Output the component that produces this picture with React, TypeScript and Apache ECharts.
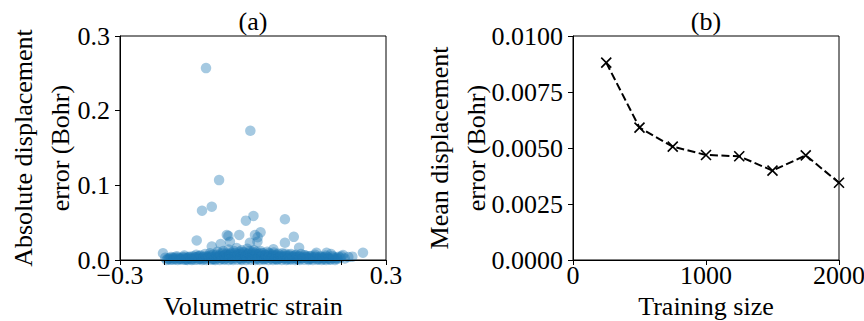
import React, { useEffect, useRef } from "react";
import * as echarts from "echarts";

// ---- Panel (a): scatter of absolute displacement error vs volumetric strain
const outlierPoints: [number, number][] = [
  [-0.106, 0.257], [-0.006, 0.173], [-0.0765, 0.107], [-0.093, 0.0714], [-0.115, 0.066],
  [-0.016, 0.0527], [0.001, 0.059], [0.072, 0.0545], [-0.127, 0.0262], [-0.0555, 0.032],
  [-0.031, 0.0335], [0.0045, 0.0335], [0.017, 0.037], [0.0105, 0.0304], [0.092, 0.031],
  [0.072, 0.023], [0.104, 0.0165], [-0.007, 0.023], [-0.052, 0.0245], [-0.073, 0.0214],
  [-0.093, 0.018], [0.01, 0.0245], [0.046, 0.0143], [-0.059, 0.0335],
];

const bandUpper: [number, number][] = [
  [-0.203, 0.009], [-0.198, 0.003], [-0.19, 0.001], [-0.185, 0.004], [-0.178, 0.002],
  [-0.172, 0.005], [-0.165, 0.001], [-0.16, 0.003], [-0.155, 0.006], [-0.15, 0.002],
  [-0.145, 0.004], [-0.14, 0.001], [-0.135, 0.005], [-0.13, 0.003], [-0.128, 0.007],
  [-0.122, 0.002], [-0.118, 0.006], [-0.112, 0.004], [-0.108, 0.008], [-0.104, 0.002],
  [-0.1, 0.005], [-0.097, 0.009], [-0.093, 0.003], [-0.09, 0.007], [-0.086, 0.001],
  [-0.083, 0.006], [-0.08, 0.011], [-0.077, 0.004], [-0.074, 0.008], [-0.07, 0.002],
  [-0.067, 0.012], [-0.064, 0.006], [-0.061, 0.009], [-0.058, 0.003], [-0.055, 0.014],
  [-0.052, 0.007], [-0.049, 0.01], [-0.046, 0.004], [-0.043, 0.012], [-0.04, 0.006],
  [-0.037, 0.016], [-0.034, 0.008], [-0.031, 0.011], [-0.028, 0.003], [-0.025, 0.013],
  [-0.022, 0.007], [-0.019, 0.01], [-0.016, 0.005], [-0.013, 0.015], [-0.01, 0.008],
  [-0.007, 0.012], [-0.004, 0.004], [-0.001, 0.009], [0.002, 0.013], [0.005, 0.006],
  [0.008, 0.011], [0.011, 0.003], [0.014, 0.008], [0.017, 0.012], [0.02, 0.005],
  [0.023, 0.009], [0.026, 0.002], [0.029, 0.007], [0.032, 0.011], [0.035, 0.004],
  [0.038, 0.008], [0.041, 0.002], [0.044, 0.006], [0.047, 0.01], [0.05, 0.003],
  [0.054, 0.007], [0.058, 0.002], [0.062, 0.005], [0.066, 0.009], [0.07, 0.003],
  [0.074, 0.006], [0.078, 0.001], [0.082, 0.005], [0.086, 0.008], [0.09, 0.003],
  [0.094, 0.006], [0.098, 0.002], [0.103, 0.005], [0.108, 0.008], [0.113, 0.003],
  [0.118, 0.006], [0.123, 0.002], [0.128, 0.005], [0.134, 0.003], [0.143, 0.0098],
  [0.14, 0.007], [0.146, 0.002], [0.152, 0.005], [0.158, 0.003], [0.166, 0.0098],
  [0.164, 0.006], [0.17, 0.002], [0.176, 0.008], [0.182, 0.004], [0.19, 0.003],
  [0.2, 0.005], [0.203, 0.0067], [0.207, 0.002], [0.215, 0.004], [0.224, 0.0045],
  [0.248, 0.0098],
];

const bandLower: [number, number][] = [
  [-0.195, 0.0], [-0.18, 0.0005], [-0.17, 0.0], [-0.158, 0.0005], [-0.148, 0.0],
  [-0.138, 0.0], [-0.125, 0.0005], [-0.115, 0.0], [-0.105, 0.0], [-0.095, 0.0005],
  [-0.085, 0.0], [-0.075, 0.0], [-0.065, 0.0005], [-0.055, 0.0], [-0.045, 0.0],
  [-0.035, 0.0005], [-0.025, 0.0], [-0.015, 0.0], [-0.005, 0.0005], [0.005, 0.0],
  [0.015, 0.0], [0.025, 0.0005], [0.035, 0.0], [0.045, 0.0], [0.055, 0.0005],
  [0.065, 0.0], [0.075, 0.0], [0.085, 0.0005], [0.095, 0.0], [0.105, 0.0],
  [0.115, 0.0005], [0.125, 0.0], [0.135, 0.0], [0.145, 0.0005], [0.155, 0.0],
  [0.165, 0.0], [0.175, 0.0005], [0.185, 0.0],
  [-0.09, 0.0015], [-0.07, 0.002], [-0.05, 0.0015], [-0.03, 0.002], [-0.01, 0.0025],
  [0.01, 0.0015], [0.03, 0.002], [0.05, 0.0015], [0.07, 0.002], [-0.06, 0.004],
  [-0.02, 0.0035], [0.0, 0.004], [0.02, 0.0035], [0.04, 0.004], [0.06, 0.0035],
  [-0.12, 0.0015], [0.1, 0.0015], [0.13, 0.0015], [-0.15, 0.001], [0.16, 0.001],
];

const bandMiddleA: [number, number][] = [
  [-0.192, 0.002], [-0.186, 0.0005], [-0.181, 0.003], [-0.175, 0.001], [-0.169, 0.0035],
  [-0.163, 0.0015], [-0.157, 0.004], [-0.152, 0.0005], [-0.147, 0.003], [-0.142, 0.0045],
  [-0.137, 0.002], [-0.132, 0.0005], [-0.127, 0.004], [-0.121, 0.0055], [-0.116, 0.0025],
  [-0.111, 0.001], [-0.106, 0.005], [-0.101, 0.0035], [-0.096, 0.006], [-0.091, 0.001],
  [-0.087, 0.0045], [-0.082, 0.0075], [-0.078, 0.0025], [-0.073, 0.0055], [-0.068, 0.009],
  [-0.063, 0.0015], [-0.059, 0.007], [-0.054, 0.0045], [-0.05, 0.0085], [-0.045, 0.002],
  [-0.041, 0.0095], [-0.036, 0.005], [-0.032, 0.0075], [-0.027, 0.001], [-0.023, 0.0105],
  [-0.018, 0.006], [-0.014, 0.0025], [-0.009, 0.0095], [-0.005, 0.0065], [0.0, 0.0105],
  [0.004, 0.002], [0.009, 0.0075], [0.013, 0.005], [0.018, 0.0095], [0.022, 0.0015],
  [0.027, 0.0065], [0.031, 0.0045], [0.036, 0.0095], [0.04, 0.0025], [0.045, 0.0075],
  [0.049, 0.0055], [0.053, 0.001], [0.057, 0.0085], [0.061, 0.0025], [0.065, 0.006],
  [0.069, 0.0045], [0.073, 0.0085], [0.077, 0.0025], [0.081, 0.007], [0.085, 0.0015],
  [0.089, 0.0055], [0.093, 0.0035], [0.097, 0.007], [0.101, 0.001], [0.106, 0.0045],
  [0.111, 0.0025], [0.116, 0.0065], [0.121, 0.0045], [0.126, 0.0015], [0.131, 0.0055],
  [0.137, 0.0025], [0.142, 0.0045], [0.148, 0.001], [0.154, 0.004], [0.16, 0.0025],
  [0.167, 0.0045], [0.173, 0.001], [0.179, 0.0055], [0.186, 0.002], [0.193, 0.0045],
];

const bandMiddleB: [number, number][] = [
  [-0.188, 0.0025], [-0.176, 0.0035], [-0.166, 0.0025], [-0.154, 0.003], [-0.143, 0.0025],
  [-0.133, 0.0035], [-0.124, 0.0045], [-0.114, 0.0035], [-0.103, 0.004], [-0.094, 0.0045],
  [-0.084, 0.0035], [-0.076, 0.006], [-0.069, 0.0045], [-0.062, 0.0075], [-0.056, 0.006],
  [-0.048, 0.007], [-0.042, 0.0035], [-0.035, 0.006], [-0.029, 0.0085], [-0.021, 0.0045],
  [-0.015, 0.008], [-0.008, 0.005], [-0.002, 0.0065], [0.006, 0.0085], [0.012, 0.0055],
  [0.019, 0.007], [0.025, 0.0045], [0.033, 0.0065], [0.039, 0.0055], [0.046, 0.0035],
  [0.052, 0.006], [0.059, 0.0045], [0.067, 0.0035], [0.075, 0.005], [0.083, 0.0035],
  [0.091, 0.0045], [0.099, 0.004], [0.109, 0.0035], [0.119, 0.004], [0.129, 0.003],
  [0.139, 0.0045], [0.15, 0.003], [0.161, 0.004], [0.171, 0.003], [0.181, 0.0025],
  [0.191, 0.0015], [0.197, 0.003],
];

const strainTickLabels: Record<string, string> = { "-0.3": "\u22120.3", "0": "0.0", "0.3": "0.3" };

// ---- Panel (b): mean displacement error vs training size
const trainingSizes: number[] = [250, 500, 750, 1000, 1250, 1500, 1750, 2000];
const meanErrors: number[] = [0.00881, 0.00591, 0.00506, 0.00469, 0.00463, 0.00399, 0.00467, 0.00345];

const FONT = "Liberation Serif";
const FS = 26;

export default function App() {
  const ref = useRef<HTMLDivElement>(null);

  useEffect(() => {
    if (!ref.current) return;
    const chart = echarts.init(ref.current, undefined, { renderer: "svg" });

    const axisCommon = {
      axisLine: { show: true, onZero: false, lineStyle: { color: "#000", width: 1 } },
      axisTick: { show: true, length: 5, lineStyle: { color: "#000", width: 1 } },
      splitLine: { show: false },
      nameLocation: "middle",
      nameMoveOverlap: false,
      z: 10,
    };
    const labelCommon = { color: "#000", fontFamily: FONT, fontSize: FS };
    const xNameStyle = { color: "#000", fontFamily: FONT, fontSize: FS, lineHeight: 26 };
    const yNameStyle = { color: "#000", fontFamily: FONT, fontSize: FS, lineHeight: 37 };
    const titleStyle = { color: "#000", fontFamily: FONT, fontSize: FS, fontWeight: "normal", lineHeight: 28 };

    const scatterAll = [...bandLower, ...bandMiddleB, ...bandMiddleA, ...bandUpper, ...outlierPoints];
    const linePts = trainingSizes.map((s, i) => [s, meanErrors[i]]);

    chart.setOption({
      animation: false,
      backgroundColor: "#fff",
      title: [
        { text: "(a)", left: 253, top: 7, textAlign: "center", padding: 0, textStyle: titleStyle },
        { text: "(b)", left: 706, top: 7, textAlign: "center", padding: 0, textStyle: titleStyle },
      ],
      grid: [
        {
          left: 120, top: 36, width: 266, height: 224,
          show: true, borderColor: "#000", borderWidth: 1,
          containLabel: false, outerBoundsMode: "none",
        },
        {
          left: 573, top: 36, width: 266, height: 224,
          show: true, borderColor: "#000", borderWidth: 1,
          containLabel: false, outerBoundsMode: "none",
        },
      ],
      xAxis: [
        {
          ...axisCommon,
          type: "value",
          gridIndex: 0,
          min: -0.3,
          max: 0.3,
          interval: 0.1,
          name: "Volumetric strain",
          nameGap: 33,
          nameTextStyle: xNameStyle,
          axisLabel: {
            ...labelCommon,
            lineHeight: 18,
            margin: 6,
            showMinLabel: true,
            showMaxLabel: true,
            formatter: (v: number) => {
              const k = String(Math.round(v * 10) / 10);
              return strainTickLabels[k] ?? "";
            },
          },
        },
        {
          ...axisCommon,
          type: "value",
          gridIndex: 1,
          min: 0,
          max: 2000,
          interval: 1000,
          name: "Training size",
          nameGap: 33,
          nameTextStyle: xNameStyle,
          axisLabel: {
            ...labelCommon,
            lineHeight: 18,
            margin: 6,
            showMinLabel: true,
            showMaxLabel: true,
            formatter: (v: number) => String(Math.round(v)),
          },
        },
      ],
      yAxis: [
        {
          ...axisCommon,
          type: "value",
          gridIndex: 0,
          min: 0,
          max: 0.3,
          interval: 0.1,
          name: "Absolute displacement\nerror (Bohr)",
          nameRotate: 90,
          nameGap: 41,
          nameTextStyle: yNameStyle,
          axisLabel: { ...labelCommon, lineHeight: 10, margin: 10, formatter: (v: number) => v.toFixed(1) },
        },
        {
          ...axisCommon,
          type: "value",
          gridIndex: 1,
          min: 0,
          max: 0.01,
          interval: 0.0025,
          name: "Mean displacement\nerror (Bohr)",
          nameRotate: 90,
          nameGap: 78,
          nameTextStyle: yNameStyle,
          axisLabel: { ...labelCommon, lineHeight: 10, margin: 10, formatter: (v: number) => v.toFixed(4) },
        },
      ],
      series: [
        {
          type: "scatter",
          xAxisIndex: 0,
          yAxisIndex: 0,
          data: scatterAll,
          symbol: "circle",
          symbolSize: 10.5,
          clip: false,
          itemStyle: { color: "rgba(31,119,180,0.5)", borderWidth: 0 },
          z: 2,
        },
        {
          type: "line",
          xAxisIndex: 1,
          yAxisIndex: 1,
          data: linePts,
          symbol: "path://M0,0L10,10M10,0L0,10",
          symbolSize: 10,
          showAllSymbol: true,
          lineStyle: { color: "#000", width: 2, type: [8, 3.5] },
          itemStyle: { color: "#000", borderColor: "#000", borderWidth: 1.6 },
          z: 3,
        },
      ],
    });

    return () => chart.dispose();
  }, []);

  return (
    <div
      ref={ref}
      style={{ position: "fixed", left: 0, top: 0, width: 864, height: 321, background: "#fff" }}
    />
  );
}
